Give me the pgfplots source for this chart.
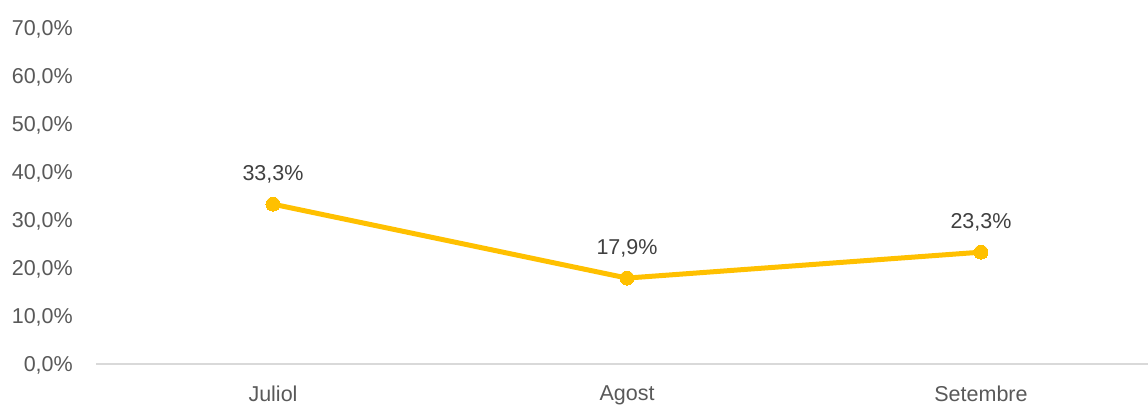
\documentclass[border=0pt]{standalone}
\usepackage{pgfplots}
\pgfplotsset{compat=1.18}
\usepackage{fontspec}
\setmainfont{Liberation Sans}
\definecolor{lineyellow}{HTML}{FFC000}
\definecolor{ticktext}{HTML}{595959}
\definecolor{labeltext}{HTML}{404040}
\definecolor{axisgray}{HTML}{D9D9D9}
\begin{document}
\begin{tikzpicture}[x=1bp,y=1bp]
\useasboundingbox (0,0) rectangle (1148,406);
\begin{axis}[
  at={(96bp,42bp)}, anchor=south west,
  scale only axis, width=1062bp, height=336bp,
  xmin=-0.5, xmax=2.5, ymin=0, ymax=70,
  xtick={0,1,2}, xticklabels={Juliol,Agost,Setembre},
  ytick={0,10,...,70},
  axis x line*=bottom, axis y line*=left,
  y axis line style={draw=none},
  x axis line style={draw=axisgray, line width=1.2bp, -},
  major tick length=0pt,
  /pgf/number format/assume math mode=true,
  yticklabel={\pgfmathprintnumber[fixed,fixed zerofill,precision=1,use comma]{\tick}\%},
  yticklabel style={anchor=base east, inner sep=0pt, xshift=-23bp, yshift=-7.7bp, font=\fontsize{21.5bp}{24bp}\selectfont, text=ticktext},
  xticklabel style={anchor=north, inner sep=0pt, yshift=-22bp, font=\fontsize{21.5bp}{24bp}\selectfont, text=ticktext},
  clip=false,
  nodes near coords={\pgfmathprintnumber[fixed,fixed zerofill,precision=1,use comma]{\pgfplotspointmeta}\%},
  nodes near coords style={anchor=base, inner sep=0pt, yshift=24bp, font=\fontsize{21.5bp}{24bp}\selectfont, text=labeltext},
]
\addplot[color=lineyellow, line width=5bp, mark=*, mark size=7bp, mark options={fill=lineyellow, draw=lineyellow, line width=0bp}]
  coordinates {(0,33.3) (1,17.9) (2,23.3)};
\end{axis}
\end{tikzpicture}
\end{document}
